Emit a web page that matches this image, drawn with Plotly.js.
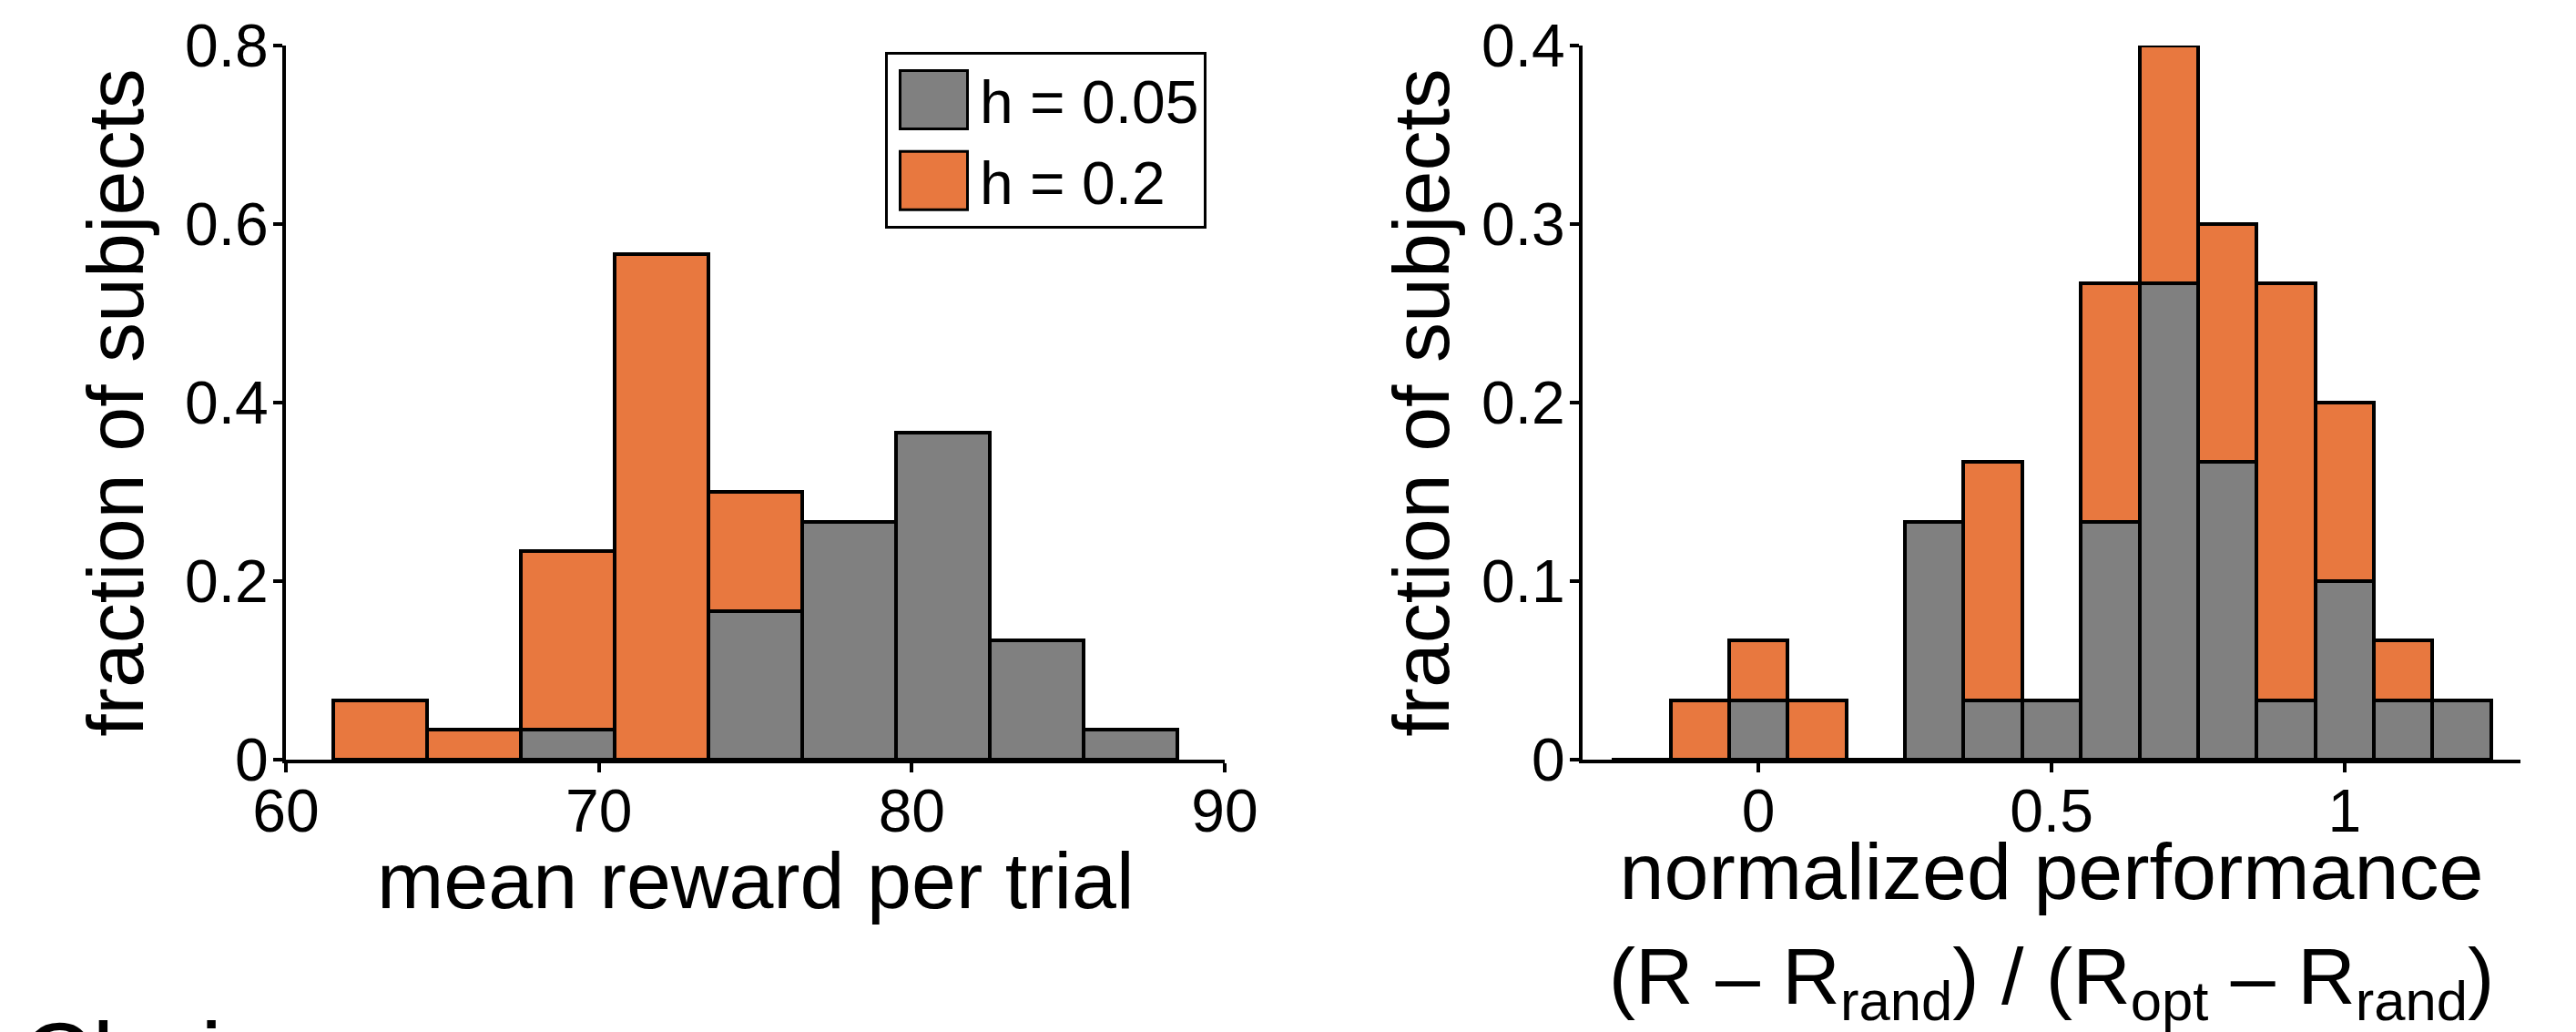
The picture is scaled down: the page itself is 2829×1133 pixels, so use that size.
<!DOCTYPE html>
<html><head><meta charset="utf-8">
<script src="https://cdn.plot.ly/plotly-3.0.1.min.js"></script>
<style>html,body{margin:0;padding:0;background:#fff;} #chart{width:2829px;height:1133px;}</style>
</head><body><div id="chart"></div>
<script>
// ---- data (fraction of subjects per bin) ----
const rewardBins   = [63, 66, 69, 72, 75, 78, 81, 84, 87];
const rewardLowH   = [0, 0, 0.0333, 0, 0.1667, 0.2667, 0.3667, 0.1333, 0.0333];   // h = 0.05
const rewardHighH  = [0.0667, 0.0333, 0.2, 0.5667, 0.1333, 0, 0, 0, 0];           // h = 0.2

const perfBins  = [-0.2, -0.1, 0, 0.1, 0.2, 0.3, 0.4, 0.5, 0.6, 0.7, 0.8, 0.9, 1.0, 1.1, 1.2];
const perfLowH  = [0, 0, 0.0333, 0, 0, 0.1333, 0.0333, 0.0333, 0.1333, 0.2667, 0.1667, 0.0333, 0.1, 0.0333, 0.0333];
const perfHighH = [0, 0.0333, 0.0333, 0.0333, 0, 0, 0.1333, 0, 0.1333, 0.1333, 0.1333, 0.2333, 0.1, 0.0333, 0];

const seriesNames = ['h = 0.05', 'h = 0.2'];
const rewardTicks = [60, 70, 80, 90];
const rewardTickText = ['60', '70', '80', '90'];
const perfTicks = [0, 0.5, 1];
const perfTickText = ['0', '0.5', '1'];
const yTicksLeft = [0, 0.2, 0.4, 0.6, 0.8];
const yTickTextLeft = ['0', '0.2', '0.4', '0.6', '0.8'];
const yTicksRight = [0, 0.1, 0.2, 0.3, 0.4];
const yTickTextRight = ['0', '0.1', '0.2', '0.3', '0.4'];
const xTitleLeft = 'mean reward per trial';
const xTitleRight = 'normalized performance<br>(R – R<sub>rand</sub>) / (R<sub>opt</sub> – R<sub>rand</sub>)';
const yTitle = 'fraction of subjects';

const GRAY = '#808080';
const ORANGE = '#E8783F';
const FONT = 'Liberation Sans, Arial, Helvetica, sans-serif';
const W = 2829, H = 1133;

const barLine = {color: '#000', width: 4};

const data = [
  {type: 'bar', x: rewardBins, y: rewardLowH, name: seriesNames[0], marker: {color: GRAY, line: barLine}, xaxis: 'x', yaxis: 'y'},
  {type: 'bar', x: rewardBins, y: rewardHighH, name: seriesNames[1], marker: {color: ORANGE, line: barLine}, xaxis: 'x', yaxis: 'y'},
  {type: 'bar', x: perfBins, y: perfLowH, name: seriesNames[0], marker: {color: GRAY, line: barLine}, xaxis: 'x2', yaxis: 'y2', showlegend: false},
  {type: 'bar', x: perfBins, y: perfHighH, name: seriesNames[1], marker: {color: ORANGE, line: barLine}, xaxis: 'x2', yaxis: 'y2', showlegend: false}
];

const axisCommon = {
  showgrid: false, zeroline: false, showline: true, linecolor: '#000', linewidth: 4,
  ticks: 'outside', ticklen: 10, tickwidth: 4, tickcolor: '#000',
  tickfont: {family: FONT, size: 66, color: '#000'}, mirror: false, fixedrange: true,
  tickmode: 'array'
};
const titleFont = {family: FONT, size: 88, color: '#000'};
const yDom = [1 - 834 / H, 1 - 50 / H];

const layout = {
  width: W, height: H,
  margin: {l: 0, r: 0, t: 0, b: 0},
  paper_bgcolor: '#fff', plot_bgcolor: '#fff',
  font: {family: FONT, color: '#000'},
  barmode: 'stack', bargap: 0,
  showlegend: true,
  legend: {
    x: 972 / W, y: 1 - 57 / H, xanchor: 'left', yanchor: 'top',
    bgcolor: '#fff', bordercolor: '#000', borderwidth: 3,
    font: {family: FONT, size: 66, color: '#000'},
    traceorder: 'normal', itemwidth: 91, tracegroupgap: 0
  },
  xaxis: Object.assign({}, axisCommon, {
    domain: [314 / W, 1345 / W], range: [60, 90], anchor: 'y',
    tickvals: rewardTicks, ticktext: rewardTickText, ticklabelstandoff: -14
  }),
  yaxis: Object.assign({}, axisCommon, {
    domain: yDom, range: [0, 0.8], anchor: 'x',
    tickvals: yTicksLeft, ticktext: yTickTextLeft, ticklabelstandoff: -8,
    title: {text: yTitle, font: titleFont, standoff: 17}
  }),
  xaxis2: Object.assign({}, axisCommon, {
    domain: [1738 / W, 2768 / W], range: [-0.3, 1.3], anchor: 'y2',
    tickvals: perfTicks, ticktext: perfTickText, ticklabelstandoff: -14,
    title: {text: xTitleRight, font: titleFont, standoff: 24}
  }),
  yaxis2: Object.assign({}, axisCommon, {
    domain: yDom, range: [0, 0.4], anchor: 'x2',
    tickvals: yTicksRight, ticktext: yTickTextRight, ticklabelstandoff: -8,
    title: {text: yTitle, font: titleFont, standoff: 7}
  }),
  annotations: [
    {
      text: xTitleLeft, xref: 'x domain', yref: 'paper', x: 0.5, y: 1 - 915 / H,
      xanchor: 'center', yanchor: 'top', showarrow: false, font: titleFont
    },
    {
      text: 'Choice', xref: 'paper', yref: 'paper', x: 22 / W, y: 1 - 1099 / H,
      xanchor: 'left', yanchor: 'top', showarrow: false,
      font: {family: FONT, size: 107, color: '#000'}
    }
  ]
};

Plotly.newPlot('chart', data, layout, {staticPlot: true, displayModeBar: false}).then(function (gd) {
  gd.querySelectorAll('.legend .legendpoints path').forEach(function (p) {
    p.setAttribute('d', 'M37,32H-37V-32H37Z');
    p.style.strokeWidth = '3px';
    p.style.stroke = '#000';
  });
});
</script>
</body></html>
